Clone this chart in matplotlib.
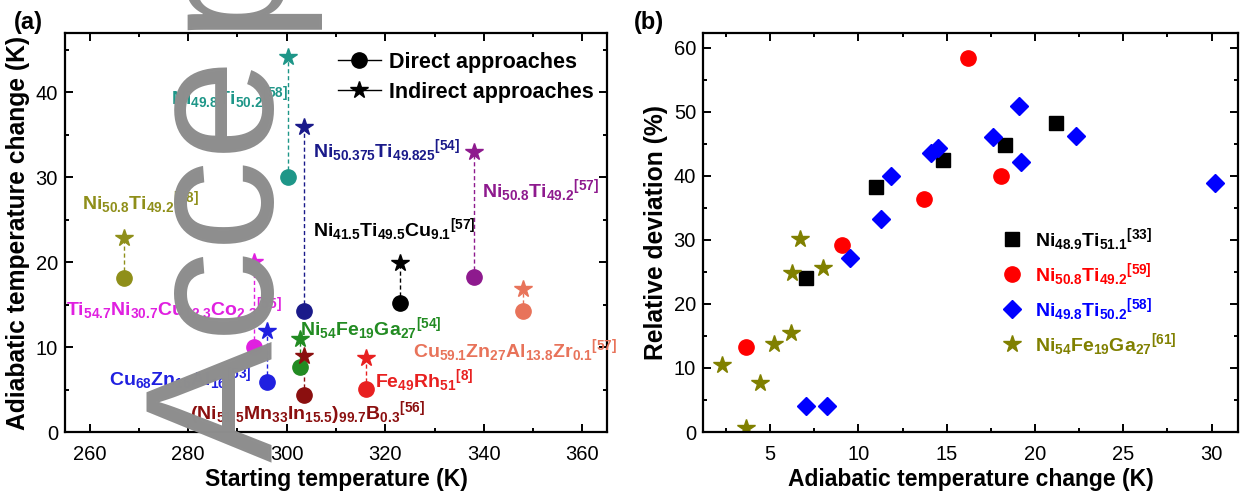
import matplotlib
matplotlib.use("Agg")
import matplotlib.pyplot as plt
from matplotlib.lines import Line2D
from matplotlib.ticker import MultipleLocator

plt.rcParams['font.family'] = ['Liberation Sans', 'DejaVu Sans']
plt.rcParams['mathtext.fontset'] = 'custom'
plt.rcParams['mathtext.rm'] = 'Liberation Sans'
plt.rcParams['mathtext.bf'] = 'Liberation Sans:bold'
plt.rcParams['mathtext.it'] = 'Liberation Sans:italic'

# ---------------- Panel (a) data ----------------
alloy_labels = [
    r'$\mathbf{Ni_{50.8}Ti_{49.2}{}^{[38]}}$',
    r'$\mathbf{Ni_{49.8}Ti_{50.2}{}^{[58]}}$',
    r'$\mathbf{Ni_{50.375}Ti_{49.825}{}^{[54]}}$',
    r'$\mathbf{Ni_{50.8}Ti_{49.2}{}^{[57]}}$',
    r'$\mathbf{Ni_{41.5}Ti_{49.5}Cu_{9.1}{}^{[57]}}$',
    r'$\mathbf{Ti_{54.7}Ni_{30.7}Cu_{12.3}Co_{2.3}{}^{[55]}}$',
    r'$\mathbf{Ni_{54}Fe_{19}Ga_{27}{}^{[54]}}$',
    r'$\mathbf{Cu_{59.1}Zn_{27}Al_{13.8}Zr_{0.1}{}^{[57]}}$',
    r'$\mathbf{Cu_{68}Zn_{16}Al_{16}{}^{[53]}}$',
    r'$\mathbf{Fe_{49}Rh_{51}{}^{[8]}}$',
    r'$\mathbf{(Ni_{51.5}Mn_{33}In_{15.5})_{99.7}B_{0.3}{}^{[56]}}$',
]
alloy_colors = ['#8f8f1a', '#1e9688', '#1a1a8a', '#8e1a8e', '#000000', '#e020e0',
                '#228b22', '#e8735a', '#2020e0', '#e82020', '#8b0f0f']
start_T = [267, 300.3, 303.5, 338, 323, 293.3, 302.6, 348, 296, 316, 303.5]
dT_direct = [18.1, 30, 14.2, 18.2, 15.2, 10, 7.6, 14.3, 5.9, 5.1, 4.3]
dT_indirect = [22.9, 44.2, 35.9, 33, 19.9, 20, 10.9, 16.9, 11.9, 8.7, 8.9]
label_x = [258.5, 276.5, 305.3, 339.6, 305.3, 255.2, 302.6, 325.6, 264.0, 317.9, 280.3]
label_y = [27.0, 39.4, 33.2, 28.5, 23.8, 14.6, 12.2, 9.6, 6.3, 6.1, 2.2]

# ---------------- Panel (b) data ----------------
b_names = [r'$\mathbf{Ni_{48.9}Ti_{51.1}{}^{[33]}}$',
           r'$\mathbf{Ni_{50.8}Ti_{49.2}{}^{[59]}}$',
           r'$\mathbf{Ni_{49.8}Ti_{50.2}{}^{[58]}}$',
           r'$\mathbf{Ni_{54}Fe_{19}Ga_{27}{}^{[61]}}$']
b_colors = ['#000000', '#ff0000', '#0000ff', '#808000']
b_markers = ['s', 'o', 'D', '*']
b_sizes = [10, 11, 9, 13]
sq_x = [11.0, 14.8, 18.3, 21.2, 7.05]
sq_y = [38.2, 42.5, 44.8, 48.2, 24.0]
ci_x = [16.2, 13.7, 18.1, 9.1, 3.65]
ci_y = [58.4, 36.4, 39.9, 29.2, 13.3]
di_x = [19.1, 17.6, 22.35, 19.2, 14.1, 14.5, 11.85, 11.3, 30.2, 9.55, 7.05, 8.25]
di_y = [50.9, 46.1, 46.2, 42.1, 43.5, 44.4, 40.0, 33.2, 38.9, 27.2, 4.0, 4.0]
st_x = [6.7, 6.25, 8.0, 6.2, 5.2, 2.25, 4.4, 3.65]
st_y = [30.1, 24.8, 25.6, 15.5, 13.7, 10.5, 7.7, 0.6]
b_x = [sq_x, ci_x, di_x, st_x]
b_y = [sq_y, ci_y, di_y, st_y]

fig = plt.figure(figsize=(12.5, 4.94), dpi=100)
ax1 = fig.add_axes([0.052, 0.1255, 0.4336, 0.8077])
ax2 = fig.add_axes([0.5624, 0.1255, 0.428, 0.8077])

for ax in (ax1, ax2):
    for s in ax.spines.values():
        s.set_linewidth(1.6)
    ax.tick_params(which='both', direction='in', top=True, right=True, width=1.4,
                   labelsize=14.5)
    ax.tick_params(which='major', length=5.5)
    ax.tick_params(which='minor', length=3)
    ax.tick_params(axis='x', which='major', pad=9)
    ax.tick_params(axis='y', which='major', pad=5)

# ---- panel (a)
for i in range(len(start_T)):
    c = alloy_colors[i]
    ax1.plot([start_T[i], start_T[i]], [dT_direct[i], dT_indirect[i]], ls=(0, (3, 2)),
             color=c, lw=1.0, zorder=2)
    ax1.plot(start_T[i], dT_direct[i], 'o', color=c, ms=11, mec=c, zorder=3)
    ax1.plot(start_T[i], dT_indirect[i], '*', color=c, ms=13, mec=c, zorder=3)
    ax1.text(label_x[i], label_y[i], alloy_labels[i], color=c, fontsize=14,
             ha='left', va='center', zorder=4)

ax1.set_xlim(255, 365)
ax1.set_ylim(0, 47)
ax1.xaxis.set_major_locator(MultipleLocator(20))
ax1.xaxis.set_minor_locator(MultipleLocator(10))
ax1.yaxis.set_major_locator(MultipleLocator(10))
ax1.yaxis.set_minor_locator(MultipleLocator(5))
ax1.set_xlabel('Starting temperature (K)', fontsize=16.5, fontweight='bold', labelpad=3)
ax1.set_ylabel('Adiabatic temperature change (K)', fontsize=17.7, fontweight='bold', labelpad=4)

handles_a = [Line2D([], [], color='k', lw=1, marker='o', ms=11),
             Line2D([], [], color='k', lw=1, marker='*', ms=13)]
ax1.legend(handles_a, ['Direct approaches', 'Indirect approaches'], loc='upper right',
           bbox_to_anchor=(1.0, 0.985), frameon=False, prop={'size': 15.5, 'weight': 'bold'},
           handlelength=2.0, handletextpad=0.4, labelspacing=0.4, borderaxespad=0.2)

# ---- panel (b)
for xs, ys, c, m, ms, name in zip(b_x, b_y, b_colors, b_markers, b_sizes, b_names):
    ax2.plot(xs, ys, ls='none', marker=m, color=c, mec=c, ms=ms, label=name)

ax2.set_xlim(1.2, 31.5)
ax2.set_ylim(0, 62.3)
ax2.xaxis.set_major_locator(MultipleLocator(5))
ax2.xaxis.set_minor_locator(MultipleLocator(2.5))
ax2.yaxis.set_major_locator(MultipleLocator(10))
ax2.yaxis.set_minor_locator(MultipleLocator(5))
ax2.set_xlabel('Adiabatic temperature change (K)', fontsize=16.5, fontweight='bold', labelpad=3)
ax2.set_ylabel('Relative deviation (%)', fontsize=17.7, fontweight='bold', labelpad=4)
ax2.legend(loc='center left', bbox_to_anchor=(0.523, 0.351), frameon=False, fontsize=14,
           labelcolor=b_colors, handletextpad=0.6, labelspacing=0.42, handlelength=1.2)

fig.text(0.011, 0.955, '(a)', fontsize=17, fontweight='bold', va='center', ha='left')
fig.text(0.507, 0.955, '(b)', fontsize=17, fontweight='bold', va='center', ha='left')

# watermark ("Accepted", partly outside the figure as in the reference)
wm_kw = dict(fontsize=131, color='#8e8e8e', rotation=90, rotation_mode='anchor',
             ha='left', va='baseline', zorder=10)
fig.text(273 / 1250, 1 - 462 / 494, 'Acce', **wm_kw)
fig.text(273 / 1250, 1 - 30 / 494, 'pted', **wm_kw)

fig.savefig('out.png', dpi=100)
